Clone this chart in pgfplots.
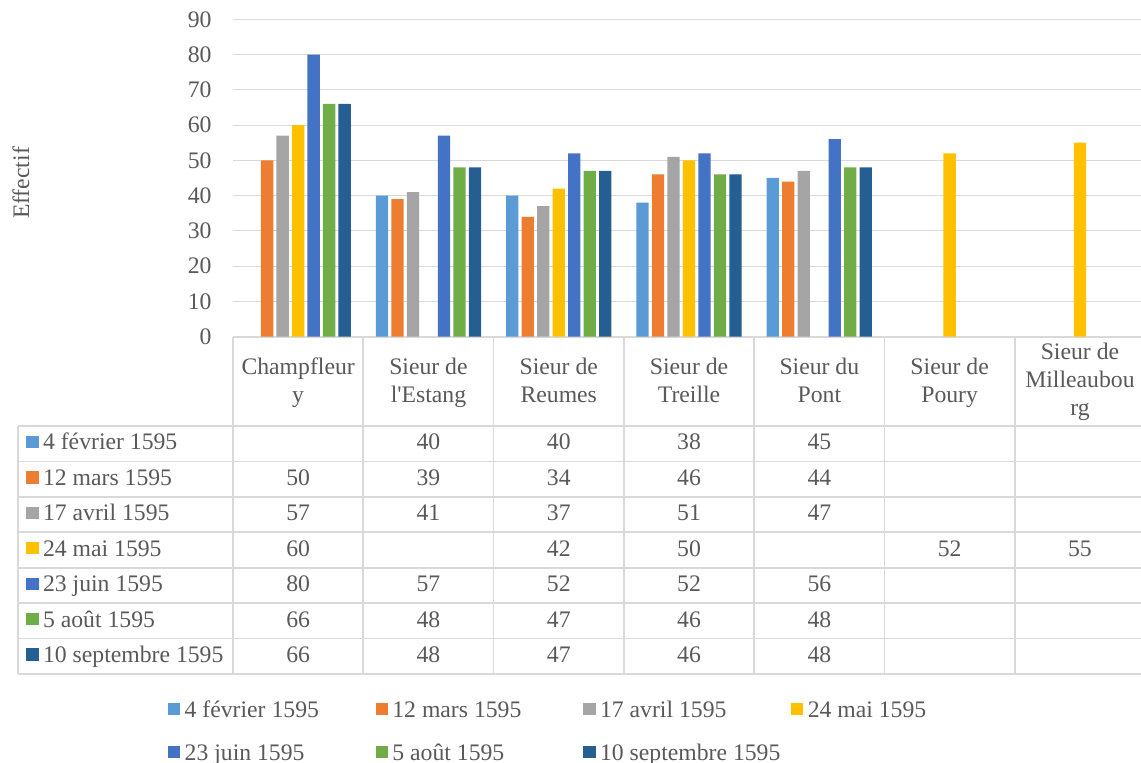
\documentclass[border=0pt]{standalone}
\usepackage{pgfplots}
\pgfplotsset{compat=1.18}
\usepackage{fontspec}
\setmainfont{Liberation Serif}[Ligatures=TeXOff]
\definecolor{c1}{HTML}{5B9BD5}
\definecolor{c2}{HTML}{ED7D31}
\definecolor{c3}{HTML}{A5A5A5}
\definecolor{c4}{HTML}{FFC000}
\definecolor{c5}{HTML}{4472C4}
\definecolor{c6}{HTML}{70AD47}
\definecolor{c7}{HTML}{255E91}
\definecolor{textc}{HTML}{595959}
\definecolor{gridc}{HTML}{D9D9D9}
\newcommand\cf{\fontsize{11.85}{14}\selectfont}
\begin{document}
\begin{tikzpicture}[font=\cf]
\useasboundingbox (0pt,0pt) rectangle (570.5pt,-381.5pt);
\begin{scope}[x=0.5pt,y=-0.5pt]
 \begin{scope}[draw=gridc, line width=0.85pt]
  \foreach \i in {0,...,7} \draw ({233+130.3*\i},336.7) -- ({233+130.3*\i},674);
  \draw (18,426) -- (18,674);
  \draw (233,336.7) -- (1146,336.7);
  \foreach \j in {0,...,7} \draw (18,{426+35.43*\j}) -- (1146,{426+35.43*\j});
 \end{scope}
 % y label
 \node[rotate=90, text=textc] at (21,183) {Effectif};
 % header
 \foreach \c/\a/\b in {0/Champfleur/y, 1/Sieur de/l'Estang, 2/Sieur de/Reumes, 3/Sieur de/Treille, 4/Sieur du/Pont, 5/Sieur de/Poury} {
  \node[anchor=base, inner sep=0pt, text=textc] at ({233+130.3*(\c+0.5)},375) {\a};
  \node[anchor=base, inner sep=0pt, text=textc] at ({233+130.3*(\c+0.5)},403) {\b};
 }
 \node[anchor=base, inner sep=0pt, text=textc] at ({233+130.3*6.5},360) {Sieur de};
 \node[anchor=base, inner sep=0pt, text=textc] at ({233+130.3*6.5},388) {Milleaubou};
 \node[anchor=base, inner sep=0pt, text=textc] at ({233+130.3*6.5},416) {rg};
 % row labels
 \foreach \cc/\lab [count=\r from 0] in {c1/4 février 1595, c2/12 mars 1595, c3/17 avril 1595, c4/24 mai 1595, c5/23 juin 1595, c6/5 août 1595, c7/10 septembre 1595} {
  \node[anchor=base west, inner sep=0pt, text=textc] at (26,{450+35.43*\r}) {\textcolor{\cc}{\rule[0.9pt]{6.15pt}{6.15pt}}\hspace{2.2pt}\lab};
 }
 % table values
 \foreach \vals [count=\r from 0] in {
   {1/40,2/40,3/38,4/45},
   {0/50,1/39,2/34,3/46,4/44},
   {0/57,1/41,2/37,3/51,4/47},
   {0/60,2/42,3/50,5/52,6/55},
   {0/80,1/57,2/52,3/52,4/56},
   {0/66,1/48,2/47,3/46,4/48},
   {0/66,1/48,2/47,3/46,4/48}} {
  \foreach \c/\v in \vals {
   \node[anchor=base, inner sep=0pt, text=textc] at ({233+130.3*(\c+0.5)},{450+35.43*\r}) {\v};
  }
 }
\end{scope}
\begin{axis}[
 at={(116.5pt,-168.35pt)}, anchor=south west,
 scale only axis, width=456.05pt, height=158.7pt,
 xmin=-0.5, xmax=6.5, ymin=0, ymax=90,
 ytick={0,10,...,90}, xtick=\empty,
 ymajorgrids, grid style={draw=gridc, line width=0.6pt},
 axis line style={draw=none}, tick style={draw=none},
 yticklabel style={font=\cf, text=textc, inner sep=0pt, xshift=-10.5pt},
 /pgf/number format/assume math mode=true,
 ybar=1.6pt, bar width=6.15pt,
 legend columns=4,
 legend image code/.code={\fill[#1] (0pt,-3.07pt) rectangle (6.15pt,3.07pt);},
 legend style={at={(-0.07127,-1.1478)}, anchor=north west, draw=none, fill=none,
   inner sep=0pt, outer sep=0pt, column sep=0pt, row sep=13.5pt,
   nodes={inner sep=0pt, text height=8pt, text depth=0pt, anchor=west, text=textc, font=\cf},
   /tikz/every odd column/.append style={column sep=2.2pt}},
]
\addplot[fill=c1, draw=none] coordinates {(1,40) (2,40) (3,38) (4,45)};
\addlegendentry{\makebox[95.5pt][l]{4 février 1595}}
\addplot[fill=c2, draw=none] coordinates {(0,50) (1,39) (2,34) (3,46) (4,44)};
\addlegendentry{\makebox[95.5pt][l]{12 mars 1595}}
\addplot[fill=c3, draw=none] coordinates {(0,57) (1,41) (2,37) (3,51) (4,47)};
\addlegendentry{\makebox[95.5pt][l]{17 avril 1595}}
\addplot[fill=c4, draw=none] coordinates {(0,60) (2,42) (3,50) (5,52) (6,55)};
\addlegendentry{\makebox[95.5pt][l]{24 mai 1595}}
\addplot[fill=c5, draw=none] coordinates {(0,80) (1,57) (2,52) (3,52) (4,56)};
\addlegendentry{\makebox[95.5pt][l]{23 juin 1595}}
\addplot[fill=c6, draw=none] coordinates {(0,66) (1,48) (2,47) (3,46) (4,48)};
\addlegendentry{\makebox[95.5pt][l]{5 août 1595}}
\addplot[fill=c7, draw=none] coordinates {(0,66) (1,48) (2,47) (3,46) (4,48)};
\addlegendentry{\makebox[95.5pt][l]{10 septembre 1595}}
\end{axis}
\end{tikzpicture}
\end{document}
